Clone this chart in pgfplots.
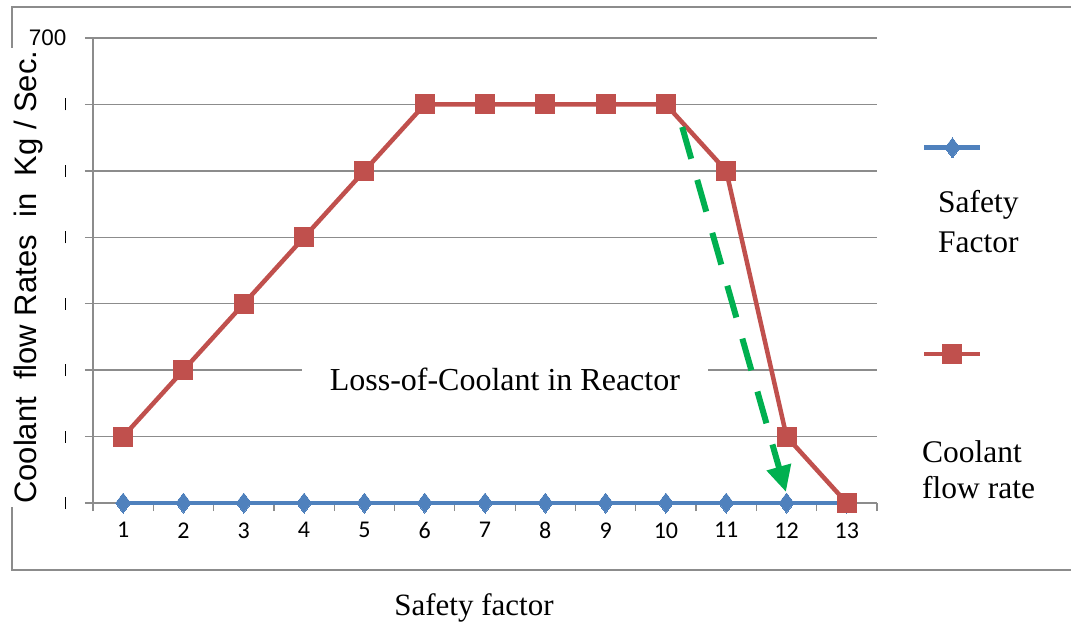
\documentclass[border=0pt]{standalone}
\usepackage{fontspec}
\setmainfont{Liberation Serif}
\newfontfamily\arialf{Liberation Sans}
\newfontfamily\calibrif{Carlito}
\usepackage{pgfplots}
\usepackage{pgfplotstable}
\pgfplotsset{compat=1.18}
\usetikzlibrary{arrows.meta}

\definecolor{sfblue}{HTML}{4F81BD}
\definecolor{cfred}{HTML}{C0504D}
\definecolor{arrowgreen}{HTML}{00B050}
\definecolor{gridgray}{HTML}{8C8C8C}

% safety factor series and coolant flow rate (kg/s)
\pgfplotstableread{
x  sf  cf
1  0   100
2  0   200
3  0   300
4  0   400
5  0   500
6  0   600
7  0   600
8  0   600
9  0   600
10 0   600
11 0   500
12 0   100
13 0   0
}\coolant

\newcommand{\tickbar}{\hspace*{2pt}\rule[-6pt]{1pt}{12pt}}

\begin{document}
\begin{tikzpicture}
% chart-area frame
\draw[gridgray, line width=1.3pt] (-81pt,496pt) rectangle (995pt,-67pt);
\begin{axis}[
  at={(0pt,0pt)}, anchor=south west,
  scale only axis, width=784pt, height=465pt,
  xmin=0.5, xmax=13.5, ymin=0, ymax=700,
  axis x line=bottom, axis y line=left,
  axis line style={-, gridgray, line width=1.3pt},
  tick align=outside,
  major tick length=8pt,
  tick style={gridgray, line width=1.3pt},
  xtick={0.5,1.5,...,13.5}, xticklabels={},
  extra x ticks={1,2,...,13},
  extra x tick labels={1,2,3,4,5,6,7,8,9,10,11,12,13},
  extra x tick style={major tick length=0pt,
    xticklabel style={yshift=-16pt}},
  xticklabel style={font=\calibrif\fontsize{24}{28}\selectfont},
  ytick={0,100,...,700},
  yticklabels={\tickbar,\tickbar,\tickbar,\tickbar,\tickbar,\tickbar,\tickbar,700},
  yticklabel style={font=\arialf\fontsize{22.5}{26}\selectfont, xshift=-15pt},
  ymajorgrids, grid style={gridgray, line width=1.3pt},
  /pgf/number format/assume math mode=true,
  clip=false,
  ylabel={Coolant\ \ flow Rates\ \ in\ \ Kg / Sec.},
  every axis y label/.style={at={(axis description cs:-0.0727,0.4855)},
    rotate=90, anchor=base, fill=white, inner sep=3pt,
    font=\arialf\fontsize{31}{37}\selectfont},
  xlabel={Safety factor},
  every axis x label/.style={at={(axis description cs:0.486,-0.243)},
    anchor=base, font=\fontsize{31}{37}\selectfont},
  legend style={at={(axis description cs:1.0574,0.786)}, anchor=north west,
    draw=none, fill=none, inner sep=0pt, row sep=187pt,
    nodes={inner sep=0pt}, font=\tiny},
  legend image code/.code={%
    \draw[mark repeat=2, mark phase=2, #1]
      plot coordinates {(0pt,0pt) (28pt,0pt) (56pt,0pt)};},
]
\addplot[sfblue, line width=4.5pt, mark=diamond*, mark size=10pt,
  mark options={solid, line width=0pt}] table[x=x, y=sf] {\coolant};
\addlegendentry{}
\addplot[cfred, line width=4.5pt, mark=square*, mark size=9.5pt,
  mark options={solid, line width=0pt}] table[x=x, y=cf] {\coolant};
\addlegendentry{}

\node[fill=white, inner xsep=28pt, inner ysep=4pt, anchor=base,
  font=\fontsize{32}{38}\selectfont] at (axis cs:7.33,170) {Loss-of-Coolant in Reactor};

% drop of the flow rate from the plateau
\draw[arrowgreen, line width=6pt, dash pattern=on 33pt off 22pt,
  -{Triangle[length=26pt, width=24pt]}]
  (axis cs:10.27,566) -- (axis cs:11.99,16.6);
\end{axis}

% legend captions
\begin{scope}[every node/.style={anchor=base west, inner sep=0pt,
    font=\fontsize{31.5}{37}\selectfont}]
  \node at (845pt,290pt) {Safety};
  \node at (845pt,250pt) {Factor};
  \node at (829pt,41pt) {Coolant};
  \node at (829pt,5pt) {flow rate};
\end{scope}

\pgfresetboundingbox
\path (-93pt,-121pt) rectangle (978pt,503pt);
\end{tikzpicture}
\end{document}
